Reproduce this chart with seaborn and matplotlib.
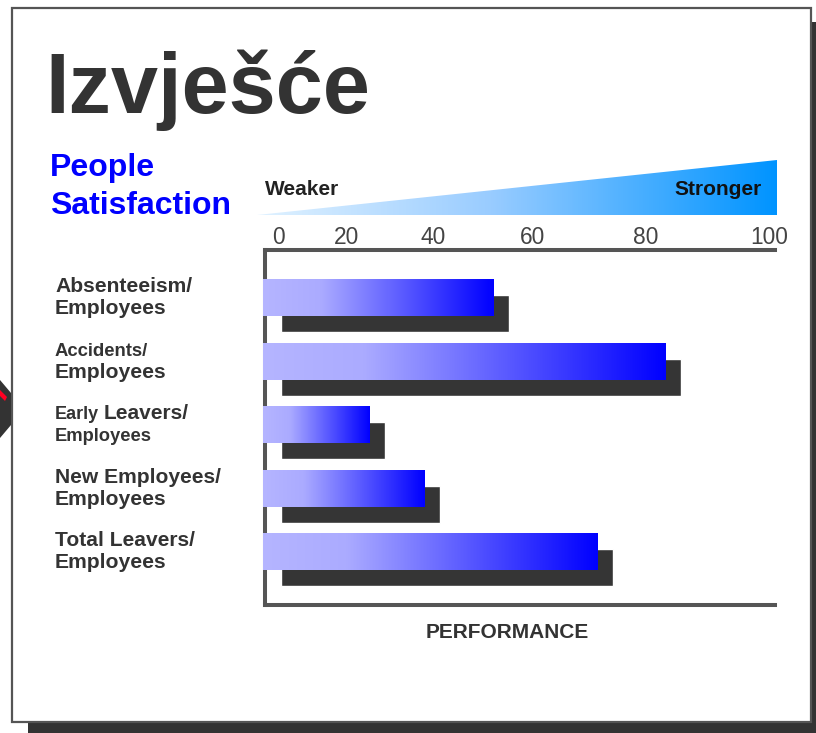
import numpy as np
import matplotlib
matplotlib.use("Agg")
import matplotlib.pyplot as plt
import seaborn as sns
import pandas as pd
from matplotlib.transforms import ScaledTranslation, blended_transform_factory
from matplotlib.patches import Polygon, Rectangle
from matplotlib.colors import LinearSegmentedColormap

# ---------------- data ----------------
title = "Izvješće"
subtitle = "People\nSatisfaction"
scale_low = "Weaker"
scale_high = "Stronger"
xlabel = "PERFORMANCE"
categories = ["Absenteeism/\nEmployees",
              "Accidents/\nEmployees",
              "Early Leavers/\nEmployees",
              "New Employees/\nEmployees",
              "Total Leavers/\nEmployees"]
values = [44.7, 78.4, 20.4, 31.2, 65.1]
tick_labels = ["0", "20", "40", "60", "80", "100"]

# ---------------- style / layout ----------------
tick_label_pos = [2.7, 16.0, 33.0, 52.4, 74.7, 98.8]   # where the labels sit in the reference
line1_sizes = [(15.2, 15.2), (13.3, 13.3), (13.0, 15.0), (15.1, 15.1), (15.1, 15.1)]
line2_sizes = [15.2, 15.2, 13.2, 15.2, 15.2]

W, H, DPI = 816, 733, 100
sns.set_style("white")
plt.rcParams["font.family"] = ["Liberation Sans", "DejaVu Sans"]

fig = plt.figure(figsize=(W / DPI, H / DPI), dpi=DPI)

# background axes in pixel coordinates
bg = fig.add_axes([0, 0, 1, 1])
bg.set_xlim(0, W)
bg.set_ylim(H, 0)
bg.axis("off")
bg.set_zorder(0)

# page shadow and frame
bg.add_patch(Rectangle((28, 720), W - 28, 13, facecolor="#333333", edgecolor="none"))
bg.add_patch(Rectangle((809, 22), 7, H - 22, facecolor="#333333", edgecolor="none"))
bg.add_patch(Rectangle((12, 8), 799, 714, facecolor="white", edgecolor="#555555", lw=1.6))

# decoration at left edge
bg.add_patch(Polygon([(0, 380), (11, 393), (11, 425), (0, 438)], closed=True,
                     facecolor="#333333", edgecolor="none"))
bg.add_patch(Polygon([(0, 390), (7, 397), (5, 401), (0, 396)], closed=True,
                     facecolor="#ff0022", edgecolor="none"))

# title texts
bg.text(45, 113, title, fontsize=61, fontweight="bold", color="#333333",
        ha="left", va="baseline")
bg.text(50, 176, "People", fontsize=23, fontweight="bold", color="#0000ff",
        ha="left", va="baseline")
bg.text(50, 214, "Satisfaction", fontsize=23, fontweight="bold", color="#0000ff",
        ha="left", va="baseline")

# gradient wedge
wedge = Polygon([(257, 215), (777, 160), (777, 215)], closed=True,
                facecolor="none", edgecolor="none")
bg.add_patch(wedge)
wedge_cmap = LinearSegmentedColormap.from_list(
    "wedge", [(0.0, (0.88, 0.95, 1.0)), (0.45, (0.60, 0.80, 1.0)), (1.0, (0.0, 0.58, 1.0))])
grad = np.linspace(0, 1, 512)[None, :]
im = bg.imshow(grad, cmap=wedge_cmap, extent=[257, 777, 215, 160], aspect="auto",
               interpolation="bilinear", zorder=1)
im.set_clip_path(wedge)
bg.set_xlim(0, W)
bg.set_ylim(H, 0)
bg.text(265, 195, scale_low, fontsize=15, fontweight="bold", color="#222222",
        ha="left", va="baseline", zorder=2)
bg.text(762, 195, scale_high, fontsize=15, fontweight="bold", color="#111111",
        ha="right", va="baseline", zorder=2)
bg.text(507, 638, xlabel, fontsize=15, fontweight="bold", color="#333333",
        ha="center", va="baseline")

# ---------------- main chart ----------------
ax = fig.add_axes([265 / W, 1 - 605 / H, 510 / W, 355 / H])
ax.set_zorder(2)
ax.patch.set_alpha(0)

df = pd.DataFrame({"category": categories, "value": values})
sns.barplot(data=df, x="value", y="category", orient="h", color="#353535",
            width=0.58, ax=ax, zorder=2, saturation=1)
sns.barplot(data=df, x="value", y="category", orient="h", color="#0000ff",
            width=0.58, ax=ax, zorder=3, saturation=1)

shadow_bars = ax.containers[0]
main_bars = ax.containers[1]
offset = ScaledTranslation(16 / DPI, -16 / DPI, fig.dpi_scale_trans)
for p in shadow_bars:
    p.set_transform(ax.transData + offset)

bar_cmap = LinearSegmentedColormap.from_list(
    "bar", [(0.0, (0.71, 0.71, 1.0)), (0.25, (0.67, 0.67, 1.0)), (1.0, (0.0, 0.0, 1.0))])
lead = 0.45  # bars cover the left axis line
for p in main_bars:
    x0, y0 = p.get_x(), p.get_y()
    w, h = p.get_width(), p.get_height()
    ax.imshow(grad, cmap=bar_cmap, extent=[x0 - lead, x0 + w, y0 + h, y0], aspect="auto",
              interpolation="bilinear", zorder=3, clip_on=False)
    p.set_facecolor("none")
    p.set_edgecolor("none")

ax.set_xlim(0, 100)
ax.set_ylim(4.84, -0.75)
ax.set_xlabel("")
ax.set_ylabel("")
ax.set_yticks([])
ax.xaxis.tick_top()
ax.set_xticks(tick_label_pos)
ax.set_xticklabels(tick_labels)
ax.tick_params(axis="x", length=0, pad=1, labelsize=16.4, labelcolor="#444444")
ax.spines["right"].set_visible(False)
for s in ["left", "top", "bottom"]:
    ax.spines[s].set_color("#555555")
    ax.spines[s].set_linewidth(2.9)

# category labels
tl = blended_transform_factory(fig.transFigure, ax.transData)
xl = 55 / W
for i, cat in enumerate(categories):
    l1, l2 = cat.split("\n")
    sa, sb = line1_sizes[i]
    if sa == sb:
        ax.annotate(l1, xy=(xl, i), xycoords=tl, xytext=(0, 4), textcoords="offset points",
                    fontsize=sa, fontweight="bold", color="#333333", va="baseline",
                    ha="left", annotation_clip=False)
    else:
        first, rest = l1.split(" ", 1)
        t1 = ax.annotate(first, xy=(xl, i), xycoords=tl, xytext=(0, 4),
                         textcoords="offset points", fontsize=sa, fontweight="bold",
                         color="#333333", va="baseline", ha="left", annotation_clip=False)
        ax.annotate(rest, xy=(1, 0), xycoords=t1, xytext=(3.5, 0), textcoords="offset points",
                    fontsize=sb, fontweight="bold", color="#333333", va="bottom",
                    ha="left", annotation_clip=False)
    ax.annotate(l2, xy=(xl, i), xycoords=tl, xytext=(0, -11.9), textcoords="offset points",
                fontsize=line2_sizes[i], fontweight="bold", color="#333333", va="baseline",
                ha="left", annotation_clip=False)

fig.savefig("out.png", dpi=DPI)
